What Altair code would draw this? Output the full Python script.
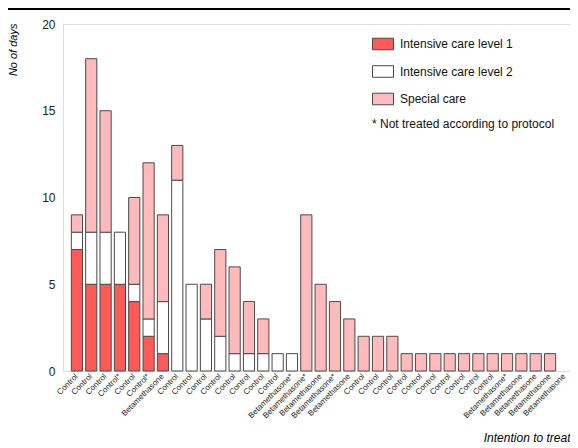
import json
import altair as alt
import pandas as pd

# ---- data ----
labels = ["Control", "Control", "Control", "Control*", "Control", "Control*", "Betamethasone",
          "Control", "Control", "Control", "Control", "Control", "Control", "Control", "Control",
          "Betamethasone*", "Betamethasone*", "Betamethasone", "Betamethasone*", "Betamethasone",
          "Control", "Control", "Control", "Control", "Control", "Control", "Control", "Control",
          "Control", "Control",
          "Betamethasone*", "Betamethasone", "Betamethasone", "Betamethasone", "Betamethasone"]
ic1 = [7, 5, 5, 5, 4, 2, 1] + [0] * 28
ic2 = [1, 3, 3, 3, 1, 1, 3, 11, 5, 3, 2, 1, 1, 1, 1, 1] + [0] * 19
special = [1, 10, 7, 0, 5, 9, 5, 2, 0, 2, 5, 5, 3, 2, 0, 0,
           9, 5, 4, 3, 2, 2, 2, 1, 1, 1, 1, 1, 1, 1, 1, 1, 1, 1, 0]
series = ["Intensive care level 1", "Intensive care level 2", "Special care"]
colors = ["#FF5A5A", "#FFFFFF", "#FFBBBB"]
note = "* Not treated according to protocol"

rows = []
for i in range(len(labels)):
    for k, vals in enumerate([ic1, ic2, special]):
        if vals[i] > 0:
            rows.append({"idx": i, "care": series[k], "ord": k, "days": vals[i]})
df = pd.DataFrame(rows)

FONT = "Liberation Sans"
label_expr = json.dumps(labels) + "[datum.value]"
rect_path = "M-1,-0.55L1,-0.55L1,0.55L-1,0.55Z"

bars = alt.Chart(df).mark_bar(stroke="#4a4a4a", strokeWidth=1).encode(
    x=alt.X("idx:O",
            scale=alt.Scale(domain=list(range(len(labels))), paddingInner=0.22,
                            paddingOuter=0.29, align=1),
            axis=alt.Axis(title="Intention to treat", labelExpr=label_expr, labelAngle=-45,
                          labelAlign="right", labelBaseline="middle", labelPadding=4,
                          labelFontSize=8, labelFont=FONT, labelColor="#222",
                          ticks=False, domain=False, grid=False,
                          titleFont=FONT, titleFontSize=12, titleFontStyle="italic",
                          titleFontWeight="normal", titleAnchor="end", titleAlign="right",
                          titleBaseline="middle", titleX=507, titleY=66, labelOverlap=False)),
    y=alt.Y("days:Q", stack="zero",
            scale=alt.Scale(domain=[0, 20], nice=False),
            axis=alt.Axis(title="No of days", values=[0, 5, 10, 15, 20], ticks=False,
                          domain=False, labelPadding=8, labelFontSize=12, labelFont=FONT,
                          labelColor="#222",
                          gridColor="white", gridWidth=1.5,
                          gridOpacity=alt.ConditionalAxisNumber(
                              condition={"test": "datum.value == 0 || datum.value == 20", "value": 0},
                              value=1),
                          titleFont=FONT, titleFontSize=11, titleFontStyle="italic",
                          titleFontWeight="normal", titleAngle=-90, titleX=-50, titleY=-1,
                          titleAlign="right", titleBaseline="middle")),
    color=alt.Color("care:N", scale=alt.Scale(domain=series, range=colors),
                    legend=alt.Legend(orient="none", legendX=309, legendY=9, title=None,
                                      symbolType=rect_path, symbolSize=441,
                                      symbolStrokeColor="#4a4a4a", symbolStrokeWidth=1,
                                      symbolOpacity=1, labelFont=FONT, labelFontSize=12,
                                      labelColor="#111", labelOffset=6, rowPadding=8.5,
                                      padding=0)),
    order=alt.Order("ord:Q", sort="ascending"),
)

note_text = alt.Chart(pd.DataFrame({"t": [note]})).mark_text(
    align="left", baseline="middle", font=FONT, fontSize=12, color="#111"
).encode(x=alt.value(309), y=alt.value(100), text="t:N")

top_rule = alt.Chart(pd.DataFrame({"a": [0]})).mark_rule(color="black", strokeWidth=2).encode(
    x=alt.value(-55), x2=alt.value(507), y=alt.value(-15))

chart = alt.layer(bars, note_text, top_rule).properties(
    width=507, height=347,
    autosize=alt.AutoSizeParams(type="none"),
    padding={"left": 55, "top": 16, "right": 0, "bottom": 76},
).configure_view(fill="#CCFFFF", stroke=None).configure(background="white")

chart.save("out.html", embed_options={"renderer": "svg", "actions": False})
